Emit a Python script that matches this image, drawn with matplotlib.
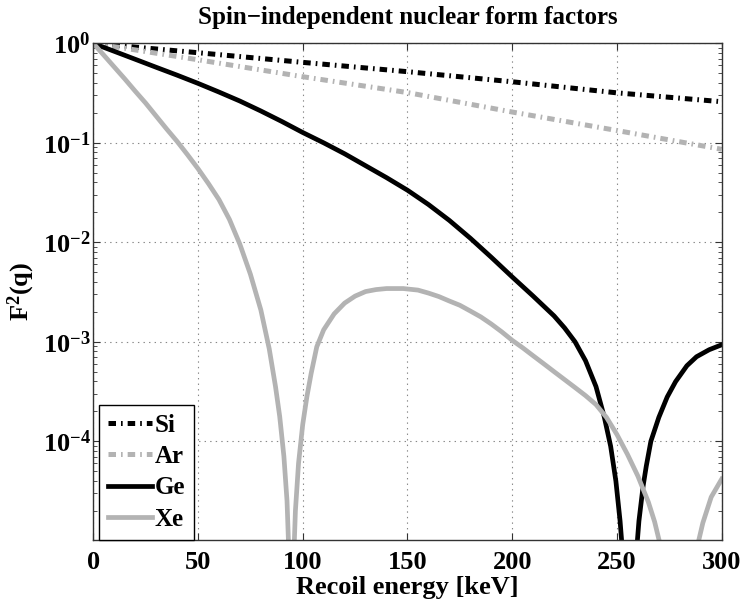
import numpy as np
import matplotlib
matplotlib.use('Agg')
import matplotlib.pyplot as plt
from matplotlib.ticker import FixedLocator, FuncFormatter, LogLocator, NullFormatter

# ---- data ----
energy_si = [0, 50, 100, 150, 200, 250, 300]
f2_si = [1.0, 0.805, 0.644, 0.519, 0.411, 0.318, 0.259]

energy_ar = [0, 50, 100, 150, 200, 250, 300]
f2_ar = [1.0, 0.684, 0.462, 0.32, 0.204, 0.133, 0.0861]

energy_ge = [0, 10, 20, 30, 40, 50, 60, 70, 80, 90, 100, 110, 120, 130, 140, 150,
             160, 170, 180, 190, 200, 210, 220, 225, 230, 235, 240, 244, 247, 249.5,
             251.5, 253, 256, 259, 260.5, 262.5, 264, 266.2, 270, 274, 278, 283.4,
             288, 294, 300]
f2_ge = [1.0, 0.832, 0.692, 0.575, 0.479, 0.396, 0.324, 0.263, 0.209, 0.164, 0.127,
         0.100, 0.0776, 0.0589, 0.0447, 0.0334, 0.0240, 0.0166, 0.0110, 0.00708,
         0.00449, 0.00288, 0.00182, 0.00138, 0.00100, 6.46e-4, 3.55e-4, 1.74e-4,
         8.91e-5, 3.98e-5, 1.58e-5, 6.31e-6, 1e-8, 6.31e-6, 1.58e-5, 3.55e-5,
         5.62e-5, 1.0e-4, 1.74e-4, 2.79e-4, 3.98e-4, 5.75e-4, 7.08e-4, 8.32e-4,
         9.33e-4]

energy_xe = [0, 5, 10, 15, 20, 25, 30, 35, 40, 45, 50, 55, 60, 65, 70, 75, 80, 84,
             87, 89, 91, 92.5, 93.5, 94.5, 95.5, 96.5, 98, 100, 102, 104, 106.7, 110,
             115, 120, 125, 130, 135, 140, 148, 155, 160, 165, 170, 175, 180, 185,
             190, 195, 200, 205, 210, 215, 220, 225, 230, 235, 240, 245, 250, 255,
             260, 265, 268, 271, 274, 279.6, 285, 288, 291, 295, 300]
f2_xe = [1.0, 0.762, 0.579, 0.440, 0.331, 0.251, 0.186, 0.138, 0.1035, 0.0759,
         0.0550, 0.0389, 0.0269, 0.0170, 0.00955, 0.00479, 0.00209, 8.51e-4,
         3.55e-4, 1.78e-4, 7.08e-5, 2.51e-5, 6.31e-6, 1e-8, 5.01e-6, 2.0e-5,
         6.03e-5, 1.48e-4, 2.82e-4, 4.79e-4, 8.91e-4, 1.32e-3, 1.91e-3, 2.45e-3,
         2.88e-3, 3.20e-3, 3.35e-3, 3.43e-3, 3.43e-3, 3.31e-3, 3.09e-3, 2.85e-3,
         2.57e-3, 2.33e-3, 2.04e-3, 1.78e-3, 1.51e-3, 1.26e-3, 1.035e-3, 8.71e-4,
         7.24e-4, 6.03e-4, 5.01e-4, 4.17e-4, 3.47e-4, 2.88e-4, 2.34e-4, 1.74e-4,
         1.17e-4, 7.41e-5, 4.47e-5, 2.45e-5, 1.55e-5, 8.51e-6, 3.63e-6, 1e-8,
         3.39e-6, 8.13e-6, 1.51e-5, 2.75e-5, 4.17e-5]

labels = ['Si', 'Ar', 'Ge', 'Xe']
x_ticks = [0, 50, 100, 150, 200, 250, 300]
y_ticks = [1e-4, 1e-3, 1e-2, 1e-1, 1e0]
title = 'Spin\u2212independent nuclear form factors'
xlabel = 'Recoil energy [keV]'
ylabel = r'$\mathbf{F^2(q)}$'

# ---- style ----
plt.rcParams['font.family'] = ['Liberation Serif', 'DejaVu Serif']
plt.rcParams['font.weight'] = 'bold'
plt.rcParams['mathtext.fontset'] = 'custom'
plt.rcParams['mathtext.rm'] = 'Liberation Serif:bold'
plt.rcParams['mathtext.bf'] = 'Liberation Serif:bold'
plt.rcParams['mathtext.it'] = 'Liberation Serif:bold'
plt.rcParams['lines.scale_dashes'] = False

fs_tick = 19
fs_label = 19
fs_title = 18
fs_leg = 18
black = 'black'
grey = (0.7, 0.7, 0.7)
dashdot = (0, (5.4, 3.6, 1.2, 3.6))

fig = plt.figure(figsize=(7.42, 6.02), dpi=100)
ax = fig.add_axes([0.1257, 0.1038, 0.8469, 0.8242])

ax.plot(energy_si, f2_si, color=black, lw=3.6, linestyle=dashdot,
        dash_capstyle='butt', label=labels[0])
ax.plot(energy_ar, f2_ar, color=grey, lw=3.6, linestyle=dashdot,
        dash_capstyle='butt', label=labels[1])
ax.plot(energy_ge, f2_ge, color=black, lw=3.4, label=labels[2])
ax.plot(energy_xe, f2_xe, color=grey, lw=3.4, label=labels[3])

ax.set_yscale('log')
ax.set_xlim(0, 300)
ax.set_ylim(1.03e-5, 1.0)

ax.xaxis.set_major_locator(FixedLocator(x_ticks))
ax.set_xticklabels([str(t) for t in x_ticks], fontsize=fs_tick, fontweight='bold')
ax.yaxis.set_major_locator(FixedLocator(y_ticks))
ax.yaxis.set_major_formatter(FuncFormatter(
    lambda v, p: r'$\mathbf{10^{%d}}$' % int(round(np.log10(v)))))
ax.yaxis.set_minor_locator(LogLocator(base=10, subs=np.arange(2, 10), numticks=20))
ax.yaxis.set_minor_formatter(NullFormatter())
for lab in ax.get_yticklabels():
    lab.set_fontsize(fs_tick)

ax.tick_params(which='both', direction='in', top=True, right=True, colors='#333333',
               labelcolor='black')
ax.tick_params(which='major', length=5, width=0.8)
ax.tick_params(which='minor', length=3, width=0.6)
ax.tick_params(axis='x', pad=8)
ax.tick_params(axis='y', pad=2)

ax.grid(True, which='major', color='#888888', linestyle=(0, (1, 3)), linewidth=0.8)
for s in ax.spines.values():
    s.set_linewidth(1.0)
    s.set_color('#333333')

ax.set_title(title, fontsize=fs_title, fontweight='bold', pad=14)
ax.set_xlabel(xlabel, fontsize=fs_label, fontweight='bold', labelpad=2)
ax.set_ylabel(ylabel, fontsize=fs_label, labelpad=4)

leg = ax.legend(loc='lower left', bbox_to_anchor=(0.0095, 0.0), borderaxespad=0,
                fancybox=False, framealpha=1, edgecolor='black', fontsize=fs_leg,
                handlelength=1.75, handletextpad=0.1, labelspacing=0.33,
                borderpad=0.36)
leg.get_frame().set_linewidth(1.0)

fig.savefig('out.png', dpi=100)
